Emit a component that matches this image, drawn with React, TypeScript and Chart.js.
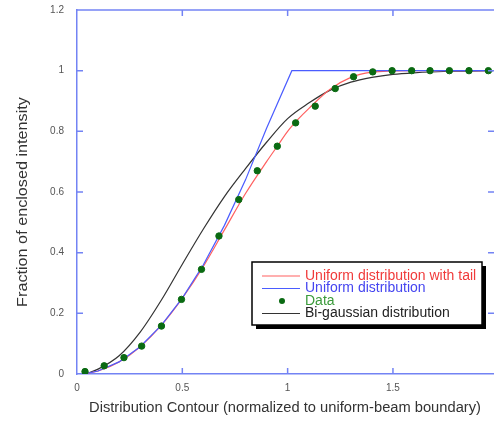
import React, { useEffect, useRef } from "react";
import { Chart, registerables } from "chart.js";

Chart.register(...registerables);

// Measured data points (green markers)
const dataX = [0.038, 0.129, 0.223, 0.307, 0.401, 0.496, 0.591, 0.674, 0.768, 0.856, 0.951, 1.038, 1.131, 1.226, 1.313, 1.404, 1.496, 1.589, 1.676, 1.768, 1.861, 1.953];
const dataY = [0.008, 0.027, 0.054, 0.092, 0.158, 0.246, 0.345, 0.455, 0.575, 0.67, 0.751, 0.828, 0.883, 0.941, 0.98, 0.996, 1.0, 1.0, 1.0, 1.0, 1.0, 1.0];

// Uniform distribution (blue)
const uniformX = [0.03, 0.1, 0.2, 0.3, 0.4, 0.5, 0.6, 0.7, 0.8, 0.9, 1.02, 1.975];
const uniformY = [0, 0.01, 0.04, 0.09, 0.16, 0.25, 0.36, 0.49, 0.64, 0.81, 1.0, 1.0];

// Uniform distribution with tail (red)
const tailX = [0.03, 0.1, 0.2, 0.3, 0.4, 0.5, 0.6, 0.7, 0.8, 0.9, 0.95, 1.0, 1.05, 1.1, 1.2, 1.3, 1.4, 1.5, 1.6, 1.975];
const tailY = [0, 0.01, 0.04, 0.09, 0.16, 0.25, 0.355, 0.475, 0.595, 0.7, 0.75, 0.8, 0.84, 0.875, 0.938, 0.978, 0.995, 0.999, 1.0, 1.0];

// Bi-gaussian distribution (black)
const biX = [0.04, 0.1, 0.2, 0.3, 0.4, 0.5, 0.6, 0.7, 0.8, 0.9, 1.0, 1.1, 1.2, 1.3, 1.4, 1.5, 1.6, 1.8, 1.975];
const biY = [0, 0.016, 0.06, 0.138, 0.243, 0.362, 0.478, 0.585, 0.677, 0.764, 0.842, 0.893, 0.935, 0.962, 0.978, 0.988, 0.993, 0.998, 1.0];

const xTitle = "Distribution Contour (normalized to uniform-beam boundary)";
const yTitle = "Fraction of enclosed intensity";

const FONT = "'Liberation Sans', Arial, Helvetica, sans-serif";
const AXIS = "#7383f4";

const pts = (xs: number[], ys: number[]) => xs.map((x, i) => ({ x, y: ys[i] }));
const fmt = (v: any) => String(+Number(v).toFixed(2));

export default function App() {
  const ref = useRef<HTMLCanvasElement>(null);

  useEffect(() => {
    if (!ref.current) return;

    const frame = {
      id: "frame",
      afterDatasetsDraw(chart: any) {
        const { ctx, chartArea: a, scales } = chart;
        const x = scales.x;
        const y = scales.y;
        ctx.save();
        ctx.strokeStyle = AXIS;
        ctx.lineWidth = 1.5;
        ctx.beginPath();
        ctx.moveTo(a.left, a.top);
        ctx.lineTo(a.right + 2, a.top);
        ctx.stroke();
        const L = 6;
        ctx.beginPath();
        x.ticks.forEach((t: any) => {
          if (t.value <= 0) return;
          const px = x.getPixelForValue(t.value);
          ctx.moveTo(px, a.bottom);
          ctx.lineTo(px, a.bottom - L);
          ctx.moveTo(px, a.top);
          ctx.lineTo(px, a.top + L);
        });
        y.ticks.forEach((t: any) => {
          if (t.value <= 0 || t.value >= 1.2) return;
          const py = y.getPixelForValue(t.value);
          ctx.moveTo(a.left, py);
          ctx.lineTo(a.left + L, py);
          ctx.moveTo(a.right + 1, py);
          ctx.lineTo(a.right + 1 - L, py);
        });
        ctx.stroke();
        // y axis title
        ctx.fillStyle = "#333";
        ctx.font = `15px ${FONT}`;
        ctx.textAlign = "center";
        ctx.textBaseline = "middle";
        ctx.translate(a.left - 54, (a.top + a.bottom) / 2 + 10);
        ctx.rotate(-Math.PI / 2);
        ctx.scale(1.08, 1);
        ctx.fillText(yTitle, 0, 0);
        ctx.restore();
      },
    };

    const legendBox = {
      id: "legendBox",
      afterDraw(chart: any) {
        const { ctx, chartArea: a } = chart;
        const bx = a.right - 241;
        const by = a.bottom - 112;
        const bw = 230;
        const bh = 63;
        ctx.save();
        ctx.fillStyle = "#000";
        ctx.fillRect(bx + 4, by + 4, bw, bh);
        ctx.fillStyle = "#fff";
        ctx.fillRect(bx, by, bw, bh);
        ctx.strokeStyle = "#000";
        ctx.lineWidth = 1.5;
        ctx.strokeRect(bx, by, bw, bh);
        const order = [2, 1, 0, 3];
        ctx.font = `14px ${FONT}`;
        ctx.textBaseline = "middle";
        ctx.textAlign = "left";
        order.forEach((di, i) => {
          const ds = chart.data.datasets[di];
          const ry = by + 14 + i * 12.5;
          if (ds.showLine) {
            ctx.strokeStyle = ds.borderColor;
            ctx.lineWidth = 1.2;
            ctx.beginPath();
            ctx.moveTo(bx + 10, ry);
            ctx.lineTo(bx + 48, ry);
            ctx.stroke();
          } else {
            ctx.fillStyle = ds.backgroundColor;
            ctx.beginPath();
            ctx.arc(bx + 30, ry, 3, 0, Math.PI * 2);
            ctx.fill();
          }
          ctx.fillStyle = ds.textColor;
          ctx.fillText(ds.label, bx + 53, ry);
        });
        ctx.restore();
      },
    };

    const chart = new Chart(ref.current, {
      type: "scatter",
      data: {
        datasets: [
          {
            label: "Data",
            data: pts(dataX, dataY),
            showLine: false,
            pointRadius: 3.2,
            pointStyle: "circle",
            backgroundColor: "#0a6a12",
            borderColor: "#0a6a12",
            textColor: "#3a9a3a",
          } as any,
          {
            label: "Uniform distribution",
            data: pts(uniformX, uniformY),
            showLine: true,
            pointRadius: 0,
            borderWidth: 1.2,
            borderColor: "#4a5cff",
            backgroundColor: "#4a5cff",
            textColor: "#4545f0",
          } as any,
          {
            label: "Uniform distribution with tail",
            data: pts(tailX, tailY),
            showLine: true,
            pointRadius: 0,
            borderWidth: 1.2,
            borderColor: "#ff6060",
            backgroundColor: "#ff6060",
            cubicInterpolationMode: "monotone",
            textColor: "#f03a3a",
          } as any,
          {
            label: "Bi-gaussian distribution",
            data: pts(biX, biY),
            showLine: true,
            pointRadius: 0,
            borderWidth: 1.2,
            borderColor: "#333333",
            backgroundColor: "#333333",
            cubicInterpolationMode: "monotone",
            textColor: "#222",
          } as any,
        ],
      },
      options: {
        animation: false,
        responsive: false,
        layout: { autoPadding: false, padding: { top: 10, right: 1, left: 0, bottom: 0 } },
        plugins: { legend: { display: false }, tooltip: { enabled: false } },
        scales: {
          x: {
            type: "linear",
            min: 0,
            max: 1.975,
            grid: { display: false, drawTicks: false },
            border: { display: true, color: AXIS, width: 1.5 },
            ticks: {
              stepSize: 0.5,
              includeBounds: false,
              padding: 8,
              color: "#555",
              font: { size: 10, family: FONT },
              maxRotation: 0,
              callback: fmt,
            },
            title: {
              display: true,
              text: xTitle,
              color: "#333",
              font: { size: 14.7, family: FONT },
              padding: { top: 0, bottom: 4 },
            },
            afterFit: (s: any) => {
              s.height = 47;
              s.paddingLeft = 0;
              s.paddingRight = 0;
            },
          },
          y: {
            type: "linear",
            min: 0,
            max: 1.2,
            grid: { display: false, drawTicks: false },
            border: { display: true, color: AXIS, width: 1.5 },
            ticks: {
              stepSize: 0.2,
              padding: 13,
              color: "#555",
              font: { size: 10, family: FONT },
              callback: fmt,
            },
            afterFit: (s: any) => {
              s.width = 77;
              s.paddingTop = 0;
              s.paddingBottom = 0;
            },
          },
        },
      },
      plugins: [frame, legendBox],
    });

    return () => chart.destroy();
  }, []);

  return (
    <div style={{ position: "absolute", left: 0, top: 0, width: 494, height: 421, background: "#fff" }}>
      <canvas ref={ref} width={494} height={421} style={{ display: "block" }} />
    </div>
  );
}
